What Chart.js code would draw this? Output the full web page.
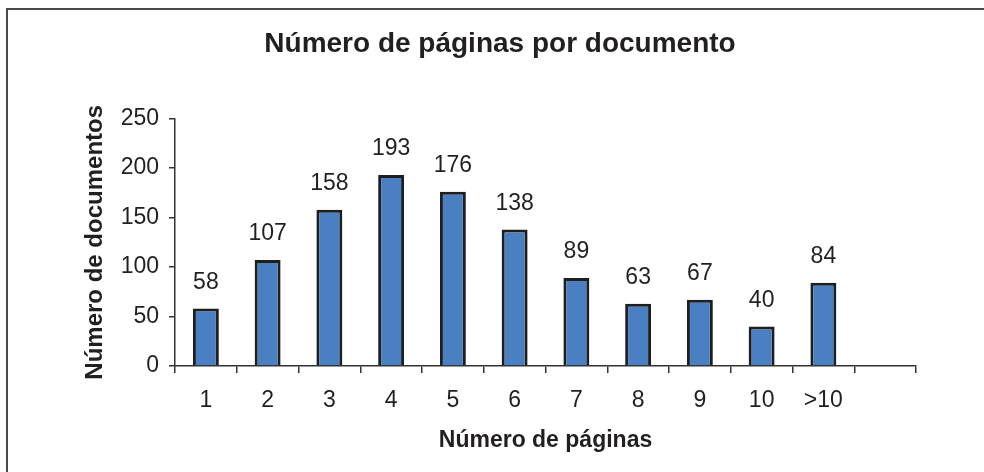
<!DOCTYPE html>
<html>
<head>
<meta charset="utf-8">
<script src="https://cdn.jsdelivr.net/npm/chart.js@4"></script>
<style>
    html, body { margin: 0; padding: 0; background: #fff; }
    #wrap { position: relative; width: 984px; height: 472px; overflow: hidden; }
    #frame {
        position: absolute; left: 6px; top: 8px; width: 1000px; height: 500px;
        border-left: 2px solid #4a4a4a; border-top: 2px solid #4a4a4a;
        pointer-events: none;
    }
    canvas { position: absolute; left: 0; top: 0; }
</style>
</head>
<body>
<div id="wrap">
    <canvas id="chart" width="984" height="472"></canvas>
    <div id="frame"></div>
</div>
<script>
// Data
const categories = ['1', '2', '3', '4', '5', '6', '7', '8', '9', '10', '>10', ''];
const documentCounts = [58, 107, 158, 193, 176, 138, 89, 63, 67, 40, 84, null];
const yTicks = [0, 50, 100, 150, 200, 250];

const textColor = '#231f20';
const axisColor = '#333333';
const fontFamily = "'Liberation Sans', Arial, Helvetica, sans-serif";

// Value labels above each bar
const barLabels = {
    id: 'barLabels',
    afterDatasetsDraw(chart) {
        const ctx = chart.ctx;
        const meta = chart.getDatasetMeta(0);
        ctx.save();
        ctx.font = '23px ' + fontFamily;
        ctx.fillStyle = textColor;
        ctx.textAlign = 'center';
        ctx.textBaseline = 'middle';
        meta.data.forEach((bar, i) => {
            const v = documentCounts[i];
            if (v === null) return;
            ctx.fillText(String(v), bar.x, bar.y - 26);
        });
        ctx.restore();
    }
};

// Title is centred on the whole frame, not only on the padded box
const centreTitle = {
    id: 'centreTitle',
    beforeDraw(chart) {
        if (chart.titleBlock) {
            chart.titleBlock.left = 16;
            chart.titleBlock.right = 984;
        }
    }
};

const ctx = document.getElementById('chart').getContext('2d');
new Chart(ctx, {
    type: 'bar',
    data: {
        labels: categories,
        datasets: [{
            data: documentCounts,
            backgroundColor: '#4a7fc1',
            borderColor: '#1e1e1e',
            borderWidth: 3,
            borderSkipped: 'bottom',
            barPercentage: 0.42,
            categoryPercentage: 1
        }]
    },
    options: {
        responsive: false,
        animation: false,
        layout: {
            padding: { top: 8, right: 68, bottom: 0, left: 0 }
        },
        plugins: {
            legend: { display: false },
            tooltip: { enabled: false },
            title: {
                display: true,
                text: 'Número de páginas por documento',
                color: textColor,
                font: { family: fontFamily, size: 28, weight: 'bold' },
                padding: { top: 19, bottom: 58 }
            }
        },
        scales: {
            x: {
                offset: true,
                grid: {
                    offset: true,
                    drawOnChartArea: false,
                    color: axisColor,
                    lineWidth: 1.5,
                    tickLength: 7
                },
                border: { display: true, color: axisColor, width: 1.5 },
                ticks: {
                    color: textColor,
                    font: { family: fontFamily, size: 23 },
                    padding: 14,
                    maxRotation: 0,
                    autoSkip: false
                },
                title: {
                    display: true,
                    text: 'Número de páginas',
                    color: textColor,
                    font: { family: fontFamily, size: 23, weight: 'bold' },
                    padding: { top: 0, bottom: 18 }
                },
                afterFit(scale) { scale.height = 106; }
            },
            y: {
                min: 0,
                max: 250,
                afterBuildTicks(scale) { scale.ticks = yTicks.map(v => ({ value: v })); },
                grid: {
                    drawOnChartArea: false,
                    color: axisColor,
                    lineWidth: 1.5,
                    tickLength: 6
                },
                border: { display: true, color: axisColor, width: 1.5 },
                ticks: {
                    color: textColor,
                    font: { family: fontFamily, size: 23 },
                    padding: 10
                },
                title: {
                    display: true,
                    text: 'Número de documentos',
                    color: textColor,
                    font: { family: fontFamily, size: 24, weight: 'bold' },
                    padding: { top: 81, bottom: 0 }
                },
                afterFit(scale) { scale.width = 175; }
            }
        }
    },
    plugins: [barLabels, centreTitle]
});
</script>
</body>
</html>
